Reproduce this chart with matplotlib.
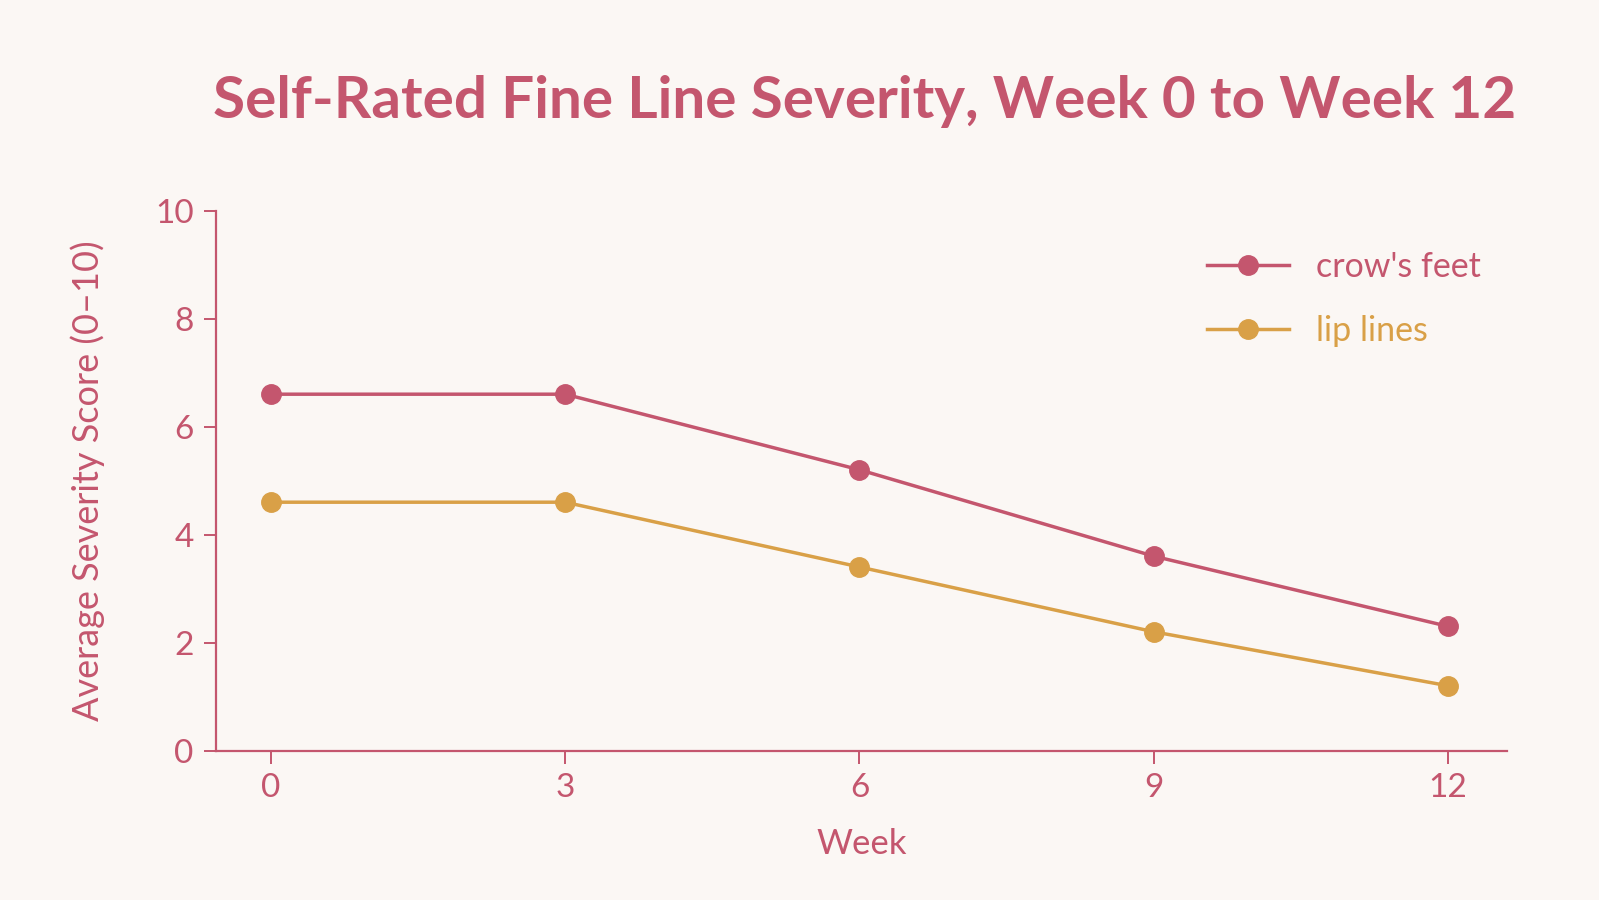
import matplotlib
matplotlib.use('Agg')
import matplotlib.pyplot as plt

weeks = [0, 3, 6, 9, 12]
crows_feet = [6.6, 6.6, 5.2, 3.6, 2.3]
lip_lines = [4.6, 4.6, 3.4, 2.2, 1.2]
series_names = ["crow's feet", "lip lines"]
y_ticks = [0, 2, 4, 6, 8, 10]

BG = '#FBF7F4'
ROSE = '#C4566E'
GOLD = '#D9A047'

plt.rcParams.update({
    "font.family": ["Lato", "DejaVu Sans"],
    "axes.edgecolor": ROSE, "xtick.color": ROSE, "ytick.color": ROSE,
})

fig = plt.figure(figsize=(15.99, 9), dpi=100, facecolor=BG)
ax = fig.add_axes([0.135, 0.166, 0.8075, 0.6])
ax.set_facecolor(BG)

for vals, col, name in [(crows_feet, ROSE, series_names[0]), (lip_lines, GOLD, series_names[1])]:
    ax.plot(weeks, vals, color=col, lw=2.5, marker='o', ms=14, label=name, zorder=3)

ax.set_xlim(-0.56, 12.6)
ax.set_ylim(0, 10)
ax.set_xticks(weeks)
ax.set_yticks(y_ticks)
ax.spines['top'].set_visible(False)
ax.spines['right'].set_visible(False)
for s in ['left', 'bottom']:
    ax.spines[s].set_linewidth(1.6)
ax.tick_params(axis='both', length=9, width=1.4, labelsize=24, pad=7)

ax.set_xlabel('Week', fontsize=25, color=ROSE, labelpad=18)
ax.set_ylabel('Average Severity Score (0\u201310)', fontsize=26, color=ROSE, labelpad=36)

leg = ax.legend(loc='upper left', bbox_to_anchor=(0.744, 0.982), frameon=False,
                fontsize=24.5, handlelength=2.4, handletextpad=0.8, labelspacing=0.95)
for txt, col in zip(leg.get_texts(), [ROSE, GOLD]):
    txt.set_color(col)

fig.text(0.541, 0.887, 'Self-Rated Fine Line Severity, Week 0 to Week 12',
         ha='center', va='center', fontsize=42, fontweight='bold', color=ROSE)

fig.savefig('out.png', dpi=100, facecolor=BG)
